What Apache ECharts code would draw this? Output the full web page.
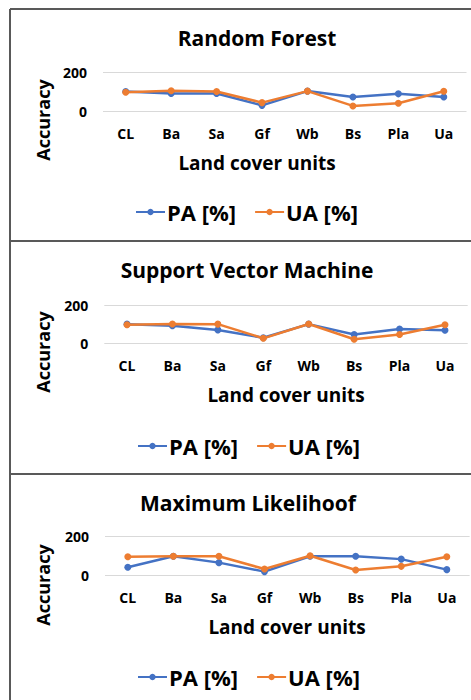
<!DOCTYPE html>
<html>
<head>
<meta charset="utf-8">
<script src="https://cdn.jsdelivr.net/npm/echarts@6/dist/echarts.min.js"></script>
<style>
  html, body { margin: 0; padding: 0; background: #fff; }
  #myChart { width: 471px; height: 700px; }
</style>
</head>
<body>
<div id="myChart"></div>
<script>
// 数据
var categories = ['CL', 'Ba', 'Sa', 'Gf', 'Wb', 'Bs', 'Pla', 'Ua']
var yTicks = [0, 200]
var panelTitles = ['Random Forest', 'Support Vector Machine', 'Maximum Likelihoof']
var seriesNames = ['PA [%]', 'UA [%]']

var rfPA = [100, 90, 90, 29, 102, 72, 88, 72]
var rfUA = [96, 104, 100, 43, 102, 26, 40, 101]
var svmPA = [100, 92, 70, 29, 100, 46, 75, 68]
var svmUA = [97, 101, 100, 26, 101, 21, 46, 97]
var mlPA = [43, 100, 67, 21, 100, 100, 85, 31]
var mlUA = [97, 100, 100, 34, 102, 29, 48, 97]

var panelData = [[rfPA, rfUA], [svmPA, svmUA], [mlPA, mlUA]]

// 布局
var FONT = '"Open Sans", sans-serif'
var colors = ['#4472C4', '#ED7D31']
var layout = [
  { grid: { left: 103, top: 72, width: 363.5, height: 39 }, title: [257, 38], yName: [43, 120], xName: [257, 163], legend: [130, 196] },
  { grid: { left: 104.3, top: 305, width: 363.4, height: 38.3 }, title: [247, 270], yName: [43, 352], xName: [286, 395], legend: [132, 430] },
  { grid: { left: 105, top: 536.7, width: 364.6, height: 39 }, title: [248, 503], yName: [43, 585], xName: [287, 627], legend: [132, 661] }
]

var grids = [], xAxes = [], yAxes = [], series = [], legends = [], graphics = []

layout.forEach(function (p, i) {
  grids.push(p.grid)
  xAxes.push({
    type: 'category',
    gridIndex: i,
    data: categories,
    boundaryGap: true,
    axisLine: { show: false },
    axisTick: { show: false },
    axisLabel: { margin: 15, color: '#000', fontFamily: FONT, fontWeight: 'bold', fontSize: 14 }
  })
  yAxes.push({
    type: 'value',
    gridIndex: i,
    min: yTicks[0],
    max: yTicks[yTicks.length - 1],
    interval: 200,
    axisLine: { show: false },
    axisTick: { show: false },
    splitLine: { lineStyle: { color: '#d9d9d9', width: 1 } },
    axisLabel: { margin: 16, color: '#000', fontFamily: FONT, fontWeight: 'bold', fontSize: 14 }
  })
  panelData[i].forEach(function (vals, k) {
    series.push({
      name: seriesNames[k],
      type: 'line',
      xAxisIndex: i,
      yAxisIndex: i,
      data: vals,
      symbol: 'circle',
      symbolSize: 7,
      lineStyle: { width: 2.5, color: colors[k] },
      itemStyle: { color: colors[k] },
      z: 2 + k
    })
  })
  legends.push({
    left: p.legend[0],
    top: p.legend[1],
    itemWidth: 29,
    itemHeight: 8,
    itemGap: 18,
    data: seriesNames,
    textStyle: { color: '#000', fontFamily: FONT, fontWeight: 'bold', fontSize: 22, padding: [0, 0, 0, -3] }
  })
  graphics.push({
    type: 'text', x: p.title[0], y: p.title[1],
    style: { text: panelTitles[i], fill: '#000', font: 'bold 21px ' + FONT, textAlign: 'center', textVerticalAlign: 'middle' }
  })
  graphics.push({
    type: 'text', x: p.xName[0], y: p.xName[1],
    style: { text: 'Land cover units', fill: '#000', font: 'bold 19px ' + FONT, textAlign: 'center', textVerticalAlign: 'middle' }
  })
  graphics.push({
    type: 'text', x: p.yName[0], y: p.yName[1], rotation: Math.PI / 2,
    style: { text: 'Accuracy', fill: '#000', font: 'bold 18px ' + FONT, textAlign: 'center', textVerticalAlign: 'middle' }
  })
})

// 边框
var borderStyle = { stroke: '#595959', lineWidth: 2 }
graphics.push({ type: 'line', shape: { x1: 10, y1: 9, x2: 10, y2: 700 }, style: borderStyle })
graphics.push({ type: 'line', shape: { x1: 10, y1: 9, x2: 471, y2: 9 }, style: borderStyle })
graphics.push({ type: 'line', shape: { x1: 10, y1: 241, x2: 471, y2: 241 }, style: borderStyle })
graphics.push({ type: 'line', shape: { x1: 10, y1: 474, x2: 471, y2: 474 }, style: borderStyle })

var myChart = echarts.init(document.getElementById('myChart'), null, { renderer: 'svg' })
myChart.setOption({
  animation: false,
  grid: grids,
  xAxis: xAxes,
  yAxis: yAxes,
  legend: legends,
  series: series,
  graphic: graphics
})
</script>
</body>
</html>
